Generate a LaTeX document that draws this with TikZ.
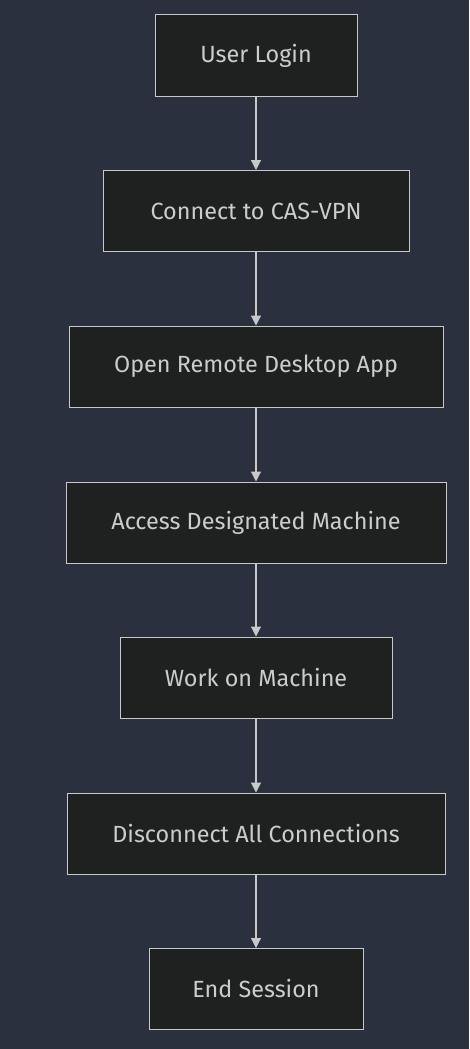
\documentclass[tikz,border=0pt]{standalone}
\usepackage{fontspec}
\setmainfont{Fira Sans}
\usetikzlibrary{arrows.meta}
\definecolor{bg}{HTML}{2B303E}
\definecolor{boxfill}{HTML}{1F2020}
\definecolor{boxline}{HTML}{C8C8C8}
\definecolor{txt}{HTML}{CCCCCC}
\begin{document}
\begin{tikzpicture}[x=1pt,y=1pt,
  stepbox/.style={draw=boxline, fill=boxfill, line width=1pt, minimum height=81pt,
    inner sep=0pt, text=txt, font=\fontsize{23.4}{28}\selectfont},
  flow/.style={draw=boxline, line width=1.2pt, -{Triangle[length=10pt,width=10pt]}}]
\fill[bg] (0,0) rectangle (469,-1049);
\useasboundingbox (0,0) rectangle (469,-1049);
\node[stepbox, minimum width=202pt] (a) at (256,-55.5) {User Login};
\node[stepbox, minimum width=306pt] (b) at (256,-211) {Connect to CAS-VPN};
\node[stepbox, minimum width=374pt] (c) at (256,-366.5) {Open Remote Desktop App};
\node[stepbox, minimum width=380pt] (d) at (256,-522.5) {Access Designated Machine};
\node[stepbox, minimum width=272pt] (e) at (256,-677.5) {Work on Machine};
\node[stepbox, minimum width=378pt] (f) at (256,-833.5) {Disconnect All Connections};
\node[stepbox, minimum width=214pt] (g) at (256,-989) {End Session};
\draw[flow] (a) -- (b);
\draw[flow] (b) -- (c);
\draw[flow] (c) -- (d);
\draw[flow] (d) -- (e);
\draw[flow] (e) -- (f);
\draw[flow] (f) -- (g);
\end{tikzpicture}
\end{document}
